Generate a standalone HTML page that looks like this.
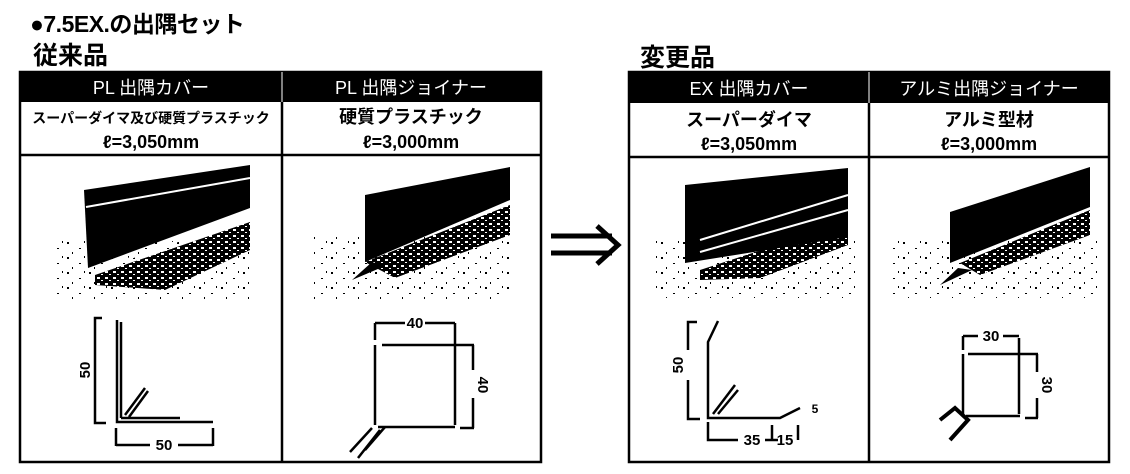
<!DOCTYPE html>
<html><head><meta charset="utf-8"><style>
body{margin:0;background:#fff;width:1130px;height:474px;overflow:hidden;font-family:"Liberation Sans","Noto Sans CJK JP",sans-serif}
.t{position:absolute;font-weight:bold;color:#000;white-space:nowrap}
</style></head><body>
<div class="t" style="left:30px;top:5px;font-size:23px;letter-spacing:-0.5px">●7.5EX.の出隅セット</div>
<div class="t" style="left:33px;top:36px;font-size:25px">従来品</div>
<div class="t" style="left:640px;top:38px;font-size:25px">変更品</div>
<svg width="1130" height="474" style="position:absolute;left:0;top:0" font-family="Liberation Sans, Noto Sans CJK JP, sans-serif">
<defs>
<pattern id="sp" width="22" height="15" patternUnits="userSpaceOnUse">
<rect x="1" y="2" width="2" height="2" fill="#000"/><rect x="13" y="8" width="2" height="1" fill="#000"/><rect x="6" y="12" width="1" height="2" fill="#000"/><rect x="18" y="1" width="1" height="2" fill="#000"/></pattern>
<pattern id="bd" width="8" height="6" patternUnits="userSpaceOnUse"><rect width="8" height="6" fill="#000"/><rect x="1" y="1" width="3" height="2" fill="#fff"/><rect x="5" y="4" width="2" height="1" fill="#fff"/></pattern>
</defs>
<g fill="none" stroke="#000" stroke-width="2.5">
<rect x="20" y="72" width="521" height="390"/>
<line x1="282" y1="72" x2="282" y2="462"/>
<line x1="20" y1="155" x2="541" y2="155"/>
<rect x="629" y="72" width="480" height="390"/>
<line x1="869" y1="72" x2="869" y2="462"/>
<line x1="629" y1="157" x2="1109" y2="157"/>
</g>
<rect x="20" y="72" width="521" height="30" fill="#000"/>
<rect x="629" y="72" width="480" height="31" fill="#000"/>
<line x1="282" y1="72" x2="282" y2="102" stroke="#fff" stroke-width="1"/>
<line x1="869" y1="72" x2="869" y2="103" stroke="#fff" stroke-width="1"/>
<g fill="#fff" font-size="18" text-anchor="middle">
<text x="151" y="94">PL 出隅カバー</text><text x="411" y="94">PL 出隅ジョイナー</text>
<text x="749" y="95">EX 出隅カバー</text><text x="989" y="95">アルミ出隅ジョイナー</text>
</g>
<g fill="#000" font-weight="bold" text-anchor="middle">
<text x="151" y="123" font-size="14">スーパーダイマ及び硬質プラスチック</text>
<text x="151" y="148" font-size="18">ℓ=3,050mm</text>
<text x="411" y="123" font-size="18">硬質プラスチック</text>
<text x="411" y="148" font-size="18">ℓ=3,000mm</text>
<text x="749" y="126" font-size="18">スーパーダイマ</text>
<text x="749" y="150" font-size="18">ℓ=3,050mm</text>
<text x="989" y="126" font-size="18">アルミ型材</text>
<text x="989" y="150" font-size="18">ℓ=3,000mm</text>
</g>
<rect x="52" y="240" width="200" height="60" fill="url(#sp)"/>
<polygon points="95,275 250,222 250,250 165,290 95,285" fill="url(#bd)"/>
<polygon points="84,190 250,165 250,208 88,268" fill="#000"/>
<line x1="86" y1="207" x2="250" y2="178" stroke="#fff" stroke-width="2"/>
<line x1="92" y1="272" x2="250" y2="215" stroke="#fff" stroke-width="2"/>
<rect x="312" y="235" width="200" height="65" fill="url(#sp)"/>
<polygon points="365,262 510,205 510,235 395,278" fill="url(#bd)"/>
<polygon points="365,195 510,167 510,200 365,262" fill="#000"/>
<polygon points="352,280 372,262 385,266" fill="#000"/>
<rect x="655" y="240" width="200" height="58" fill="url(#sp)"/>
<polygon points="700,270 848,222 848,245 760,278 700,280" fill="url(#bd)"/>
<polygon points="685,185 848,168 848,237 685,263" fill="#000"/>
<line x1="700" y1="240" x2="848" y2="195" stroke="#fff" stroke-width="2"/>
<line x1="700" y1="252" x2="848" y2="210" stroke="#fff" stroke-width="2"/>
<rect x="890" y="240" width="210" height="58" fill="url(#sp)"/>
<polygon points="960,263 1090,210 1090,235 980,275" fill="url(#bd)"/>
<polygon points="950,212 1090,167 1090,207 950,263" fill="#000"/>
<polygon points="940,285 958,268 972,270" fill="#000"/>
<g stroke="#000" stroke-width="5" fill="none"><line x1="551" y1="236" x2="612" y2="236"/><line x1="551" y1="253" x2="612" y2="253"/><polyline points="597,226 618,245 597,264"/></g>
<g stroke="#000" stroke-width="2.5" fill="none">
<polyline points="117,320 117,422 213,422"/><line x1="121" y1="322" x2="121" y2="418"/><line x1="121" y1="418" x2="180" y2="418"/>
<line x1="125" y1="415" x2="145" y2="388"/><line x1="129" y1="417" x2="148" y2="391"/>
<polyline points="102,318 95,318 95,423 106,423"/>
<line x1="116" y1="428" x2="116" y2="446"/><line x1="213" y1="428" x2="213" y2="446"/><line x1="116" y1="445" x2="150" y2="445"/><line x1="178" y1="445" x2="213" y2="445"/>
<line x1="375" y1="345" x2="375" y2="425"/><line x1="378" y1="427" x2="455" y2="427"/><line x1="382" y1="345" x2="474" y2="345"/>
<line x1="375" y1="323" x2="405" y2="323"/><line x1="425" y1="323" x2="455" y2="323"/><line x1="375" y1="323" x2="375" y2="340"/><line x1="455" y1="323" x2="455" y2="425"/>
<line x1="473" y1="345" x2="473" y2="370"/><line x1="473" y1="398" x2="473" y2="428"/><line x1="460" y1="428" x2="474" y2="428"/>
<line x1="372" y1="428" x2="350" y2="452"/><line x1="380" y1="430" x2="358" y2="458"/><line x1="385" y1="427" x2="365" y2="450"/>
<polyline points="718,321 708,342 708,418 780,418 800,408"/><line x1="713" y1="414" x2="735" y2="385"/><line x1="718" y1="414" x2="738" y2="390"/>
<polyline points="697,322 688,322 688,350"/><polyline points="688,380 688,419 700,419"/>
<polyline points="708,422 708,440 738,440"/><line x1="765" y1="440" x2="778" y2="440"/><line x1="772" y1="425" x2="772" y2="440"/><line x1="798" y1="425" x2="798" y2="440"/>
<line x1="963" y1="354" x2="963" y2="416"/><line x1="966" y1="416" x2="1020" y2="416"/><line x1="968" y1="354" x2="1038" y2="354"/><line x1="1019" y1="338" x2="1019" y2="414"/>
<line x1="963" y1="336" x2="978" y2="336"/><line x1="1003" y1="336" x2="1019" y2="336"/><line x1="963" y1="336" x2="963" y2="350"/>
<line x1="1037" y1="354" x2="1037" y2="372"/><line x1="1037" y1="398" x2="1037" y2="418"/><line x1="1025" y1="418" x2="1038" y2="418"/>
</g>
<g stroke="#000" stroke-width="4" fill="none"><polyline points="940,420 955,408 968,420 950,440"/></g>
<g fill="#000" font-size="15" font-weight="bold" text-anchor="middle">
<text x="164" y="450">50</text>
<text x="415" y="328">40</text>
<text transform="translate(478,385) rotate(90)">40</text>
<text transform="translate(90,370) rotate(-90)">50</text>
<text transform="translate(683,365) rotate(-90)">50</text>
<text x="752" y="445">35</text><text x="785" y="445">15</text>
<text x="815" y="413" font-size="12">5</text>
<text x="991" y="341">30</text>
<text transform="translate(1042,385) rotate(90)">30</text>
</g>
</svg>
</body></html>
